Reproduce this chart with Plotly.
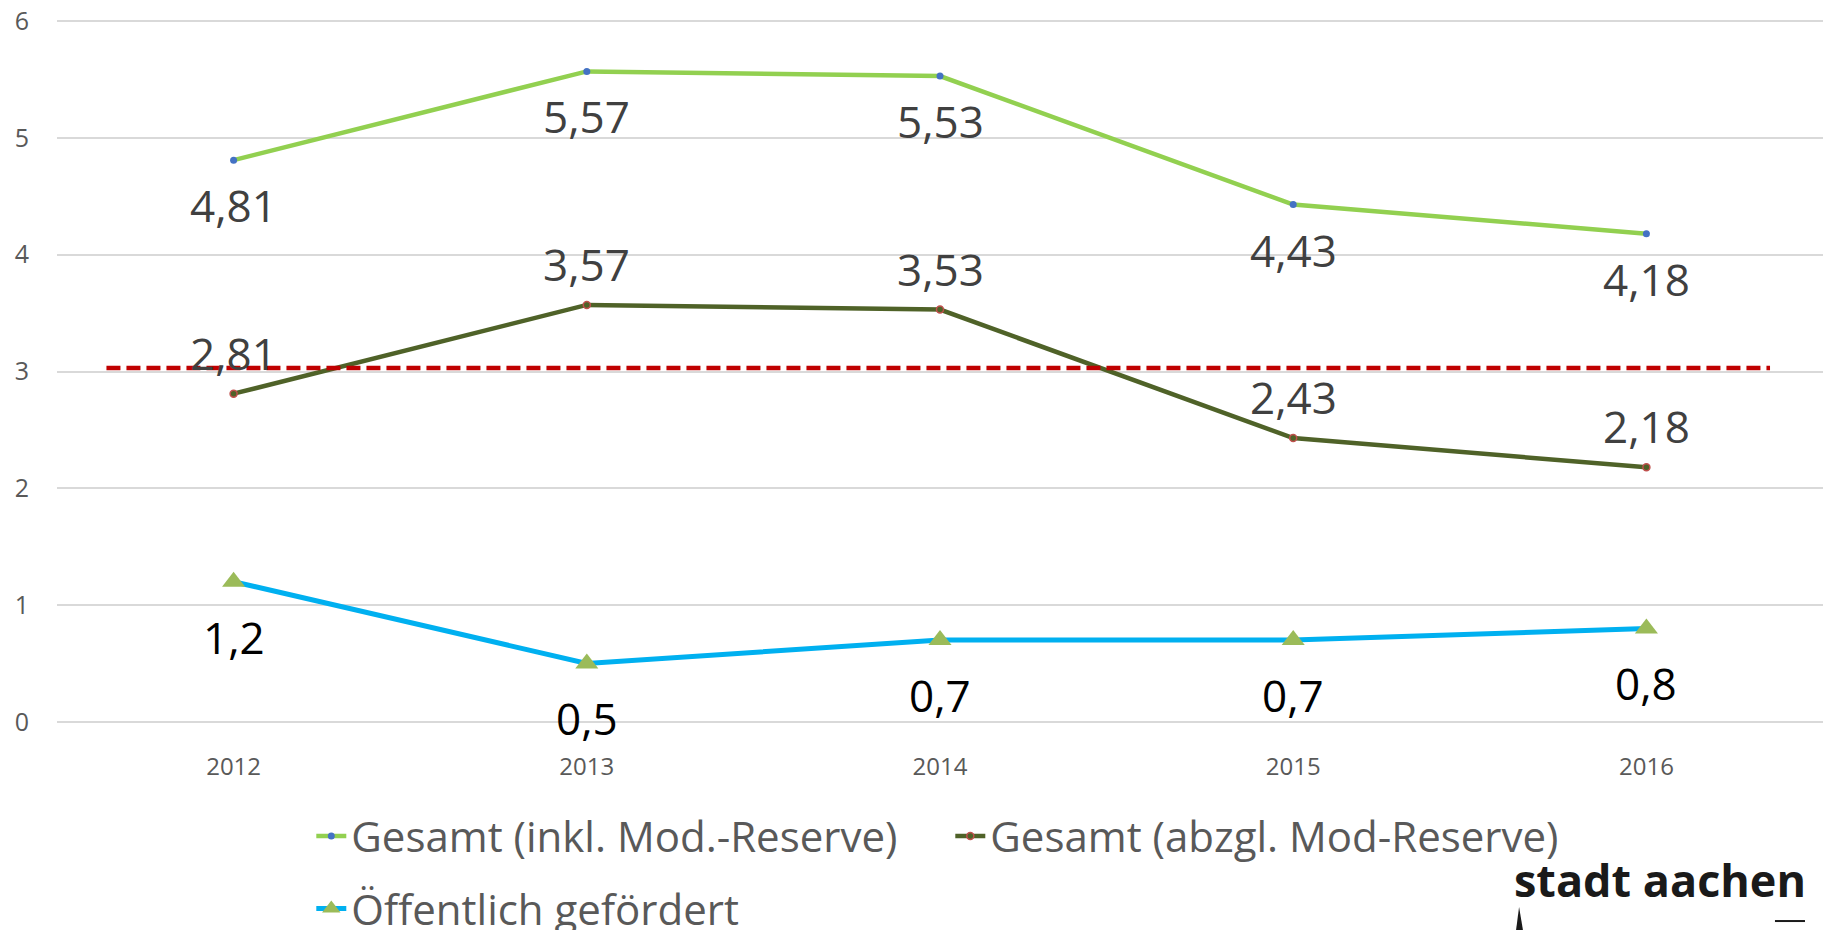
import plotly.graph_objects as go

years = ["2012", "2013", "2014", "2015", "2016"]
gesamt_inkl = [4.81, 5.57, 5.53, 4.43, 4.18]
gesamt_abzgl = [2.81, 3.57, 3.53, 2.43, 2.18]
oeffentlich = [1.2, 0.5, 0.7, 0.7, 0.8]
ref_level = 3.03
ref_span = [-0.36, 4.35]

names = ["Gesamt (inkl. Mod.-Reserve)", "Gesamt (abzgl. Mod-Reserve)", "Öffentlich gefördert"]

def fmt(v):
    return ("%g" % v).replace(".", ",")

fig = go.Figure()

fig.add_shape(type="line", xref="x", yref="y", x0=ref_span[0], x1=ref_span[1],
              y0=ref_level, y1=ref_level,
              line=dict(color="#C00000", width=4.5, dash="14px,6px"), layer="above")

# remnants of the logo graphic below the wordmark
fig.add_shape(type="path", xref="paper", yref="paper",
              path="M 0.8262 -0.2945 L 0.8279 -0.2617 L 0.8301 -0.2945 Z",
              fillcolor="#1a1a1a", line=dict(width=0))
fig.add_shape(type="line", xref="paper", yref="paper", x0=0.9728, x1=0.9898,
              y0=-0.2817, y1=-0.2817, line=dict(color="#1a1a1a", width=2))

fig.add_trace(go.Scatter(x=years, y=gesamt_inkl, name=names[0], mode="lines+markers",
                         line=dict(color="#92D050", width=4.5),
                         marker=dict(color="#4472C4", size=7, symbol="circle"),
                         legend="legend"))
fig.add_trace(go.Scatter(x=years, y=gesamt_abzgl, name=names[1], mode="lines+markers",
                         line=dict(color="#4F6228", width=4.5),
                         marker=dict(color="#4F6228", size=7, symbol="circle",
                                     line=dict(color="#C0504D", width=1.5)),
                         legend="legend"))
fig.add_trace(go.Scatter(x=years, y=oeffentlich, name=names[2], mode="lines+markers",
                         line=dict(color="#00B0F0", width=5),
                         marker=dict(color="#9BBB59", size=20, symbol="triangle-up"),
                         legend="legend2"))

ann = []
for i, v in enumerate(gesamt_inkl):
    ann.append(dict(x=i, y=v, text=fmt(v), showarrow=False, yshift=-45, yanchor="middle",
                    font=dict(family="Open Sans", size=44, color="#404040")))
for i, v in enumerate(gesamt_abzgl):
    ann.append(dict(x=i, y=v, text=fmt(v), showarrow=False, yshift=41, yanchor="middle",
                    font=dict(family="Open Sans", size=44, color="#404040")))
for i, v in enumerate(oeffentlich):
    ann.append(dict(x=i, y=v, text=fmt(v), showarrow=False, yshift=-55, yanchor="middle",
                    font=dict(family="Open Sans", size=44, color="#000000")))
ann.append(dict(xref="paper", yref="paper", x=0.9915, y=-0.222, xanchor="right", yanchor="middle",
                text="<b>stadt aachen</b>", showarrow=False,
                font=dict(family="Open Sans", size=45, color="#1a1a1a")))

fig.update_layout(
    width=1823, height=930,
    margin=dict(l=57, r=0, t=20, b=207, autoexpand=False),
    paper_bgcolor="white", plot_bgcolor="white",
    font=dict(family="Open Sans", color="#595959"),
    annotations=ann,
    showlegend=True,
    hovermode=False,
    legend=dict(orientation="h", x=0.144, y=-0.161, xanchor="left", yanchor="middle",
                font=dict(size=42, color="#595959"), bgcolor="rgba(0,0,0,0)",
                entrywidth=594, entrywidthmode="pixels"),
    legend2=dict(orientation="h", x=0.144, y=-0.264, xanchor="left", yanchor="middle",
                 font=dict(size=42, color="#595959"), bgcolor="rgba(0,0,0,0)"),
    xaxis=dict(type="category", range=[-0.5, 4.5], showgrid=False, showline=False,
               zeroline=False, ticks="outside", ticklen=22, tickcolor="rgba(0,0,0,0)",
               tickfont=dict(size=24, color="#595959"), automargin=False),
    yaxis=dict(range=[-0.01, 6.01], tickvals=[0, 1, 2, 3, 4, 5, 6], showgrid=True,
               gridcolor="#D9D9D9", gridwidth=1.5,
               zeroline=False, showline=False, ticks="outside", ticklen=22,
               tickcolor="rgba(0,0,0,0)", tickfont=dict(size=25, color="#595959"),
               automargin=False),
)

fig.write_html("out.html", config={"displayModeBar": False},
               post_script="document.body.style.margin='0';")
